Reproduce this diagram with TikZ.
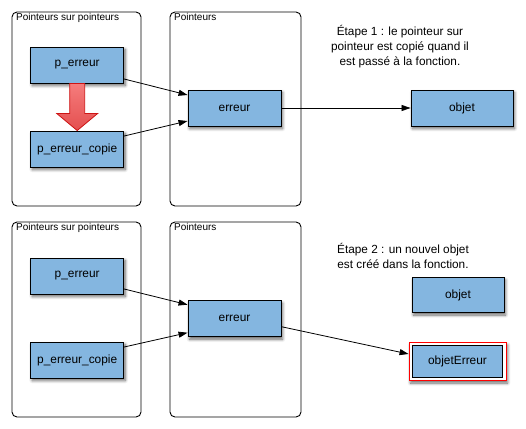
\documentclass[tikz,border=0pt]{standalone}
\usepackage{fontspec}
\setmainfont{Liberation Sans}
\usetikzlibrary{calc,arrows.meta,shadows.blur}
\definecolor{boxblue}{RGB}{132,182,224}
\definecolor{arrred1}{RGB}{245,125,125}
\definecolor{arrred2}{RGB}{228,78,78}
\definecolor{arrline}{RGB}{205,20,20}
\tikzset{
  container/.style={draw=black, line width=0.9pt, rounded corners=5pt},
  ctitle/.style={anchor=north west, inner sep=0pt, font=\fontsize{10}{11}\selectfont},
  bluebox/.style={draw=black, line width=0.9pt, fill=boxblue, minimum width=93pt, minimum height=36pt, inner sep=0pt,
    font=\fontsize{11.9}{13}\selectfont,
    blur shadow={shadow xshift=1.5pt, shadow yshift=-2.5pt, shadow blur steps=6, shadow blur radius=3pt, shadow opacity=60}},
  ptr/.style={line width=0.8pt, -{Triangle[length=9pt,width=6pt]}},
  note/.style={align=center, font=\fontsize{11.8}{15}\selectfont, inner sep=0pt},
}
\begin{document}
\begin{tikzpicture}[x=1pt, y=-1pt]
\useasboundingbox (0,0) rectangle (526,428);
% ---------- top ----------
\draw[container] (12,12) rectangle (141,206);
\draw[container] (170,12) rectangle (301,206);
\node[ctitle] (t1) at (16,13.5) {Pointeurs sur pointeurs};
\node[ctitle] (t2) at (174,13.5) {Pointeurs};
\node[bluebox] (pe1) at (77.2,65) {p\_erreur};
\node[bluebox] (pc1) at (77.2,149) {p\_erreur\_copie};
\node[bluebox] (er1) at (234.5,108) {erreur};
\node[bluebox, minimum width=102pt] (ob1) at (462,108) {objet};
\node[note] (n1) at (400,47) {Étape 1 : le pointeur sur\\pointeur est copié quand il\\est passé à la fonction.};
\draw[arrline, line width=0.8pt, top color=arrred1, bottom color=arrred2]
  ($(pe1.south)+(-7.5,0)$) -- ($(pe1.south)+(7.5,0)$) -- ($(pe1.south)+(7.5,30)$)
  -- ($(pe1.south)+(20.5,30)$) -- (pc1.north) -- ($(pe1.south)+(-20.5,30)$)
  -- ($(pe1.south)+(-7.5,30)$) -- cycle;
\draw[ptr] ([yshift=-14pt]pe1.east) -- ([yshift=13pt]er1.west);
\draw[ptr] ([yshift=13pt]pc1.east) -- ([yshift=-13pt]er1.west);
\draw[ptr] (er1.east) -- (ob1.west);
% ---------- bottom ----------
\draw[container] (12,222) rectangle (141,417);
\draw[container] (170,222) rectangle (301,417);
\node[ctitle] (t3) at (16,223.5) {Pointeurs sur pointeurs};
\node[ctitle] (t4) at (174,223.5) {Pointeurs};
\node[bluebox] (pe2) at (77.2,276) {p\_erreur};
\node[bluebox] (pc2) at (77.2,360) {p\_erreur\_copie};
\node[bluebox] (er2) at (234.5,318.7) {erreur};
\node[bluebox, minimum width=92pt, minimum height=35pt] (ob2) at (458,295) {objet};
\node[note] (n2) at (403,256) {Étape 2 : un nouvel objet\\est créé dans la fonction.};
\node[draw=red, line width=0.9pt, fill=white, minimum width=97pt, minimum height=38pt,
  blur shadow={shadow xshift=1.5pt, shadow yshift=-2.5pt, shadow blur steps=6, shadow blur radius=3pt, shadow opacity=60}]
  (oe) at (457.5,361.5) {};
\node[draw=black, line width=0.9pt, fill=boxblue, minimum width=90pt, minimum height=32pt, inner sep=0pt,
  font=\fontsize{11.9}{13}\selectfont] (oein) at (oe.center) {objetErreur};
\draw[ptr] ([yshift=-13pt]pe2.east) -- ([yshift=14pt]er2.west);
\draw[ptr] ([yshift=13pt]pc2.east) -- ([yshift=-14pt]er2.west);
\draw[ptr] ([yshift=-8pt]er2.east) -- ([yshift=7.5pt]oe.west);
\end{tikzpicture}
\end{document}
